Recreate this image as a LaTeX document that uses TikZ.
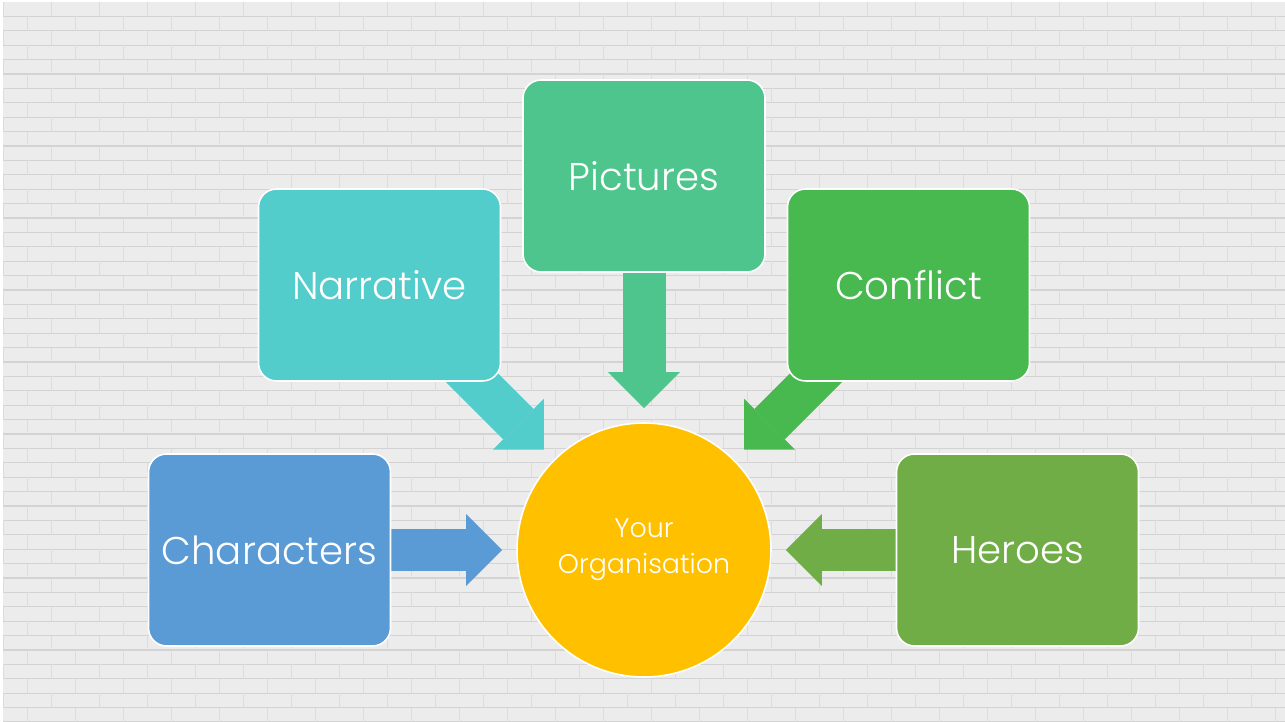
\documentclass[tikz,border=0pt]{standalone}
\usepackage{fontspec}
\newfontfamily\labelfont{Poppins Light}
\usetikzlibrary{arrows.meta}

\pgfdeclarelayer{wall}
\pgfdeclarelayer{links}
\pgfsetlayers{wall,links,main}

\definecolor{wallgray}{HTML}{ECECEC}
\definecolor{mortar}{HTML}{D3D3D3}
\definecolor{joint}{HTML}{DCDCDC}
\definecolor{pictgreen}{HTML}{4EC58D}
\definecolor{narrteal}{HTML}{53CCCC}
\definecolor{confgreen}{HTML}{47B94F}
\definecolor{charblue}{HTML}{5B9BD5}
\definecolor{herogreen}{HTML}{70AD47}
\definecolor{orggold}{HTML}{FFC000}

\tikzset{
  card/.style={draw=white, line width=0.9pt, rounded corners=0.36cm,
    minimum width=4.84cm, minimum height=3.84cm, text=white,
    font=\labelfont\fontsize{22}{26}\selectfont},
  hub/.style={circle, draw=white, line width=0.9pt, minimum size=5.08cm,
    fill=orggold, text=white, align=center,
    font=\labelfont\fontsize{15.3}{20.5}\selectfont},
  feed/.style={line width=0.86cm,
    -{Triangle[length=0.72cm, width=1.44cm, line width=0pt]},
    shorten >=0.28cm},
}

\begin{document}
\begin{tikzpicture}[x=0.02cm, y=-0.02cm]
    \useasboundingbox (0,0) rectangle (1285,722);

    % brick wall behind everything
    \begin{pgfonlayer}{wall}
    \fill[white] (0,0) rectangle (1285,722);
    \fill[wallgray] (3,2) rectangle (1285,722);
    \begin{scope}
    \clip (3,2) rectangle (1285,722);
    \foreach \r in {0,...,49} {
        \pgfmathsetmacro{\ytop}{2+14.4*\r}
        \pgfmathsetmacro{\shift}{mod(\r,2)*24}
        \draw[mortar, line width=0.6pt] (3,\ytop+14.4) -- (1285,\ytop+14.4);
        \draw[joint, line width=0.5pt]
            \foreach \k in {0,...,27} {(3+\shift+48*\k,\ytop) -- ++(0,14.4)};
    }
    \end{scope}
    \end{pgfonlayer}

    % the five boxes and the hub
    \node[card, fill=pictgreen] (pictures) at (644,176) {Pictures};
    \node[card, fill=narrteal] (narrative) at (379.5,285) {Narrative};
    \node[card, fill=confgreen] (conflict) at (908.5,285) {Conflict};
    \node[card, fill=charblue] (characters) at (269.5,550) {Characters};
    \node[card, fill=herogreen] (heroes) at (1017.5,550) {Heroes};
    \node[hub] (org) at (644,550) {\raisebox{-0.06cm}{Your}\\\raisebox{-0.06cm}{Organisation}};

    % block arrows into the hub, tucked under the boxes
    \begin{pgfonlayer}{links}
    \draw[feed, pictgreen] (pictures.center) -- (org);
    \draw[feed, narrteal] (narrative.center) -- (org);
    \draw[feed, confgreen] (conflict.center) -- (org);
    \draw[feed, charblue] (characters.center) -- (org);
    \draw[feed, herogreen] (heroes.center) -- (org);
    \end{pgfonlayer}
\end{tikzpicture}
\end{document}
